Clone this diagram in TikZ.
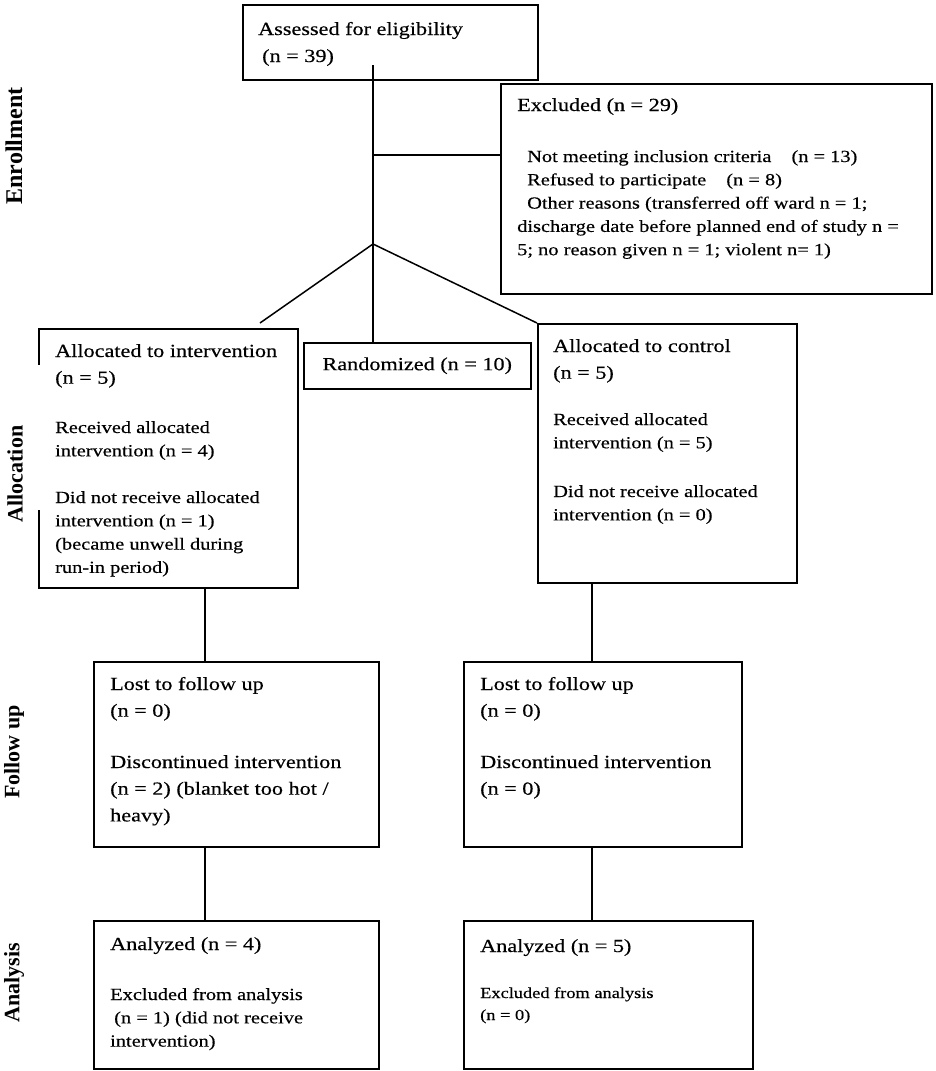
\documentclass[tikz,border=0pt]{standalone}
\usepackage{fontspec}
\setmainfont[FakeStretch=1.2,FakeBold=0.4]{Liberation Serif}
\newfontfamily\lblfont{Liberation Serif}
\newcommand\mainsz{\fontsize{18.5}{26.7}\selectfont}
\newcommand\subsz{\fontsize{17}{23.3}\selectfont}
\newcommand\smsz{\fontsize{15.3}{22}\selectfont}
% stacked lines: #1 baselineskip (pt), #2 rows separated by \cr
\newcommand\lns[2]{\vtop{\baselineskip=#1pt\relax\lineskiplimit=-100pt\halign{##\hfil\cr#2\crcr}}}
\begin{document}
\begin{tikzpicture}[x=1pt,y=-1pt,
  box/.style={draw, line width=1.5pt, inner sep=0pt, anchor=north west},
  txt/.style={inner sep=0pt, anchor=base west},
  conn/.style={line width=1.5pt},
  lbl/.style={rotate=90, inner sep=0pt, font=\lblfont\bfseries\fontsize{22}{26}\selectfont}]
\useasboundingbox (0,0) rectangle (935,1071);

% ---- boxes ----
\node[box, minimum width=295pt, minimum height=75pt] (assess) at (242,4) {};
\node[box, minimum width=431pt, minimum height=210pt] (excl) at (500,83) {};
\node[box, minimum width=227pt, minimum height=46pt, font=\mainsz] (rand) at (303,342) {Randomized (n = 10)};
\node[box, minimum width=259pt, minimum height=259pt] (allocL) at (38,328) {};
\node[box, minimum width=259pt, minimum height=259pt] (allocR) at (537,323) {};
\node[box, minimum width=285pt, minimum height=185pt] (fuL) at (93,661) {};
\node[box, minimum width=278pt, minimum height=185pt] (fuR) at (463,661) {};
\node[box, minimum width=285pt, minimum height=148pt] (anL) at (93,920) {};
\node[box, minimum width=289pt, minimum height=148pt] (anR) at (463,920) {};

% gap in the left border of the allocation box (behind the label)
\fill[white] (36,365) rectangle (40,510);

% ---- texts ----
\node[txt, font=\mainsz] (tAssess) at (258,35) {\lns{27}{Assessed for eligibility\cr\hspace*{4pt}(n = 39)}};

\node[txt, font=\mainsz] (tExclH) at (517,111) {Excluded (n = 29)};
\node[txt, font=\subsz] (tExclB) at (517,162) {\lns{23.3}{%
\hspace*{10pt}Not meeting inclusion criteria\hspace*{15pt} (n = 13)\cr
\hspace*{10pt}Refused to participate\hspace*{15pt} (n = 8)\cr
\hspace*{10pt}Other reasons (transferred off ward n = 1;\cr
discharge date before planned end of study n =\cr
5; no reason given n = 1; violent n= 1)}};

\node[txt, font=\mainsz] (tALh) at (55,357) {\lns{26.7}{Allocated to intervention\cr(n = 5)}};
\node[txt, font=\subsz] (tALa) at (55,433) {\lns{23.3}{Received allocated\cr intervention (n = 4)}};
\node[txt, font=\subsz] (tALb) at (55,503) {\lns{23.3}{Did not receive allocated\cr intervention (n = 1)\cr (became unwell during\cr run-in period)}};

\node[txt, font=\mainsz] (tARh) at (553,352) {\lns{26.7}{Allocated to control\cr(n = 5)}};
\node[txt, font=\subsz] (tARa) at (553,425) {\lns{23.3}{Received allocated\cr intervention (n = 5)}};
\node[txt, font=\subsz] (tARb) at (553,497) {\lns{23.3}{Did not receive allocated\cr intervention (n = 0)}};

\node[txt, font=\mainsz] (tFLa) at (110,690) {\lns{26.7}{Lost to follow up\cr(n = 0)}};
\node[txt, font=\mainsz] (tFLb) at (110,768) {\lns{26.7}{Discontinued intervention\cr(n = 2) (blanket too hot /\cr heavy)}};

\node[txt, font=\mainsz] (tFRa) at (480,690) {\lns{26.7}{Lost to follow up\cr(n = 0)}};
\node[txt, font=\mainsz] (tFRb) at (480,768) {\lns{26.7}{Discontinued intervention\cr(n = 0)}};

\node[txt, font=\mainsz] (tNLh) at (110,950) {Analyzed (n = 4)};
\node[txt, font=\subsz] (tNLb) at (110,1000) {\lns{23.3}{Excluded from analysis\cr\hspace*{4pt}(n = 1) (did not receive\cr intervention)}};

\node[txt, font=\mainsz] (tNRh) at (480,952) {Analyzed (n = 5)};
\node[txt, font=\smsz] (tNRb) at (480,998) {\lns{22}{Excluded from analysis\cr(n = 0)}};

% ---- side labels ----
\node[lbl, font=\lblfont\bfseries\fontsize{24}{26}\selectfont] (lEnr) at (14,146) {Enrollment};
\node[lbl] (lAll) at (15,474) {Allocation};
\node[lbl] (lFol) at (14,752) {Follow up};
\node[lbl] (lAna) at (14,983) {Analysis};

% ---- connectors ----
\coordinate (a0) at (373,65);
\coordinate (br) at (373,155);
\coordinate (j) at (373,244);
\coordinate (lt) at (260,323);
\draw[conn] (a0) -- (j);
\draw[conn] (br) -- (br -| excl.west);
\draw[conn] (j) -- (j |- rand.north);
\draw[conn] (j) -- (lt);
\draw[conn] (j) -- (allocR.north west);
\draw[conn] (205,0 |- allocL.south) -- (205,0 |- fuL.north);
\draw[conn] (205,0 |- fuL.south) -- (205,0 |- anL.north);
\draw[conn] (592,0 |- allocR.south) -- (592,0 |- fuR.north);
\draw[conn] (592,0 |- fuR.south) -- (592,0 |- anR.north);
\end{tikzpicture}
\end{document}
